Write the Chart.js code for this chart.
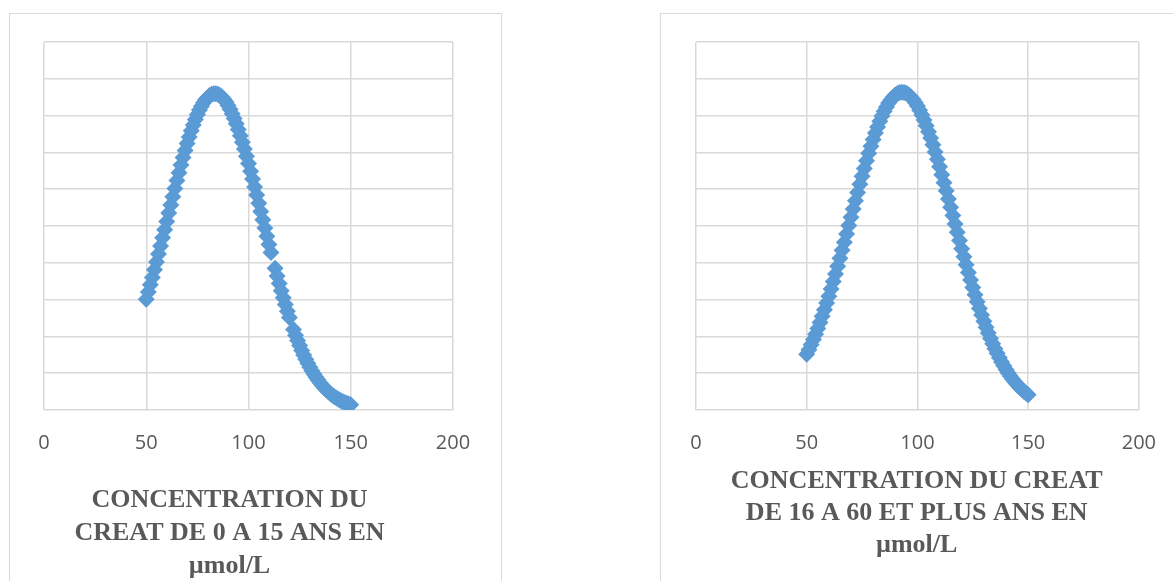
<!DOCTYPE html>
<html>
<head>
<meta charset="utf-8">
<script src="https://cdn.jsdelivr.net/npm/chart.js@4.4.0/dist/chart.umd.min.js"></script>
<style>
html,body{margin:0;padding:0;background:#fff;overflow:hidden;width:1173px;height:581px;}
.frame{position:absolute;top:13px;height:640px;border:1px solid #d9d9d9;background:#fff;}
#frameA{left:9px;width:491px;}
#frameB{left:660px;width:540px;}
canvas{position:absolute;left:0;top:0;}
</style>
</head>
<body>
<div class="frame" id="frameA"><canvas id="chartA" width="491" height="567"></canvas></div>
<div class="frame" id="frameB"><canvas id="chartB" width="516" height="567"></canvas></div>
<script>
let xTicks = [0, 50, 100, 150, 200];

let childX = [50,51,52,53,54,55,56,57,58,59,60,61,62,63,64,65,66,67,68,69,70,71,72,73,74,75,76,77,78,79,80,81,82,83,84,85,86,87,88,89,90,91,92,93,94,95,96,97,98,99,100,101,102,103,104,105,106,107,108,109,110,111,113,114,115,116,117,118,119,120,122,123,124,125,126,127,128,129,130,131,132,133,134,135,136,137,138,139,140,141,142,143,144,145,146,147,148,149,150];
let childY = [0.006025,0.006407,0.006801,0.007206,0.007620,0.008043,0.008474,0.008912,0.009355,0.009801,
  0.010250,0.010700,0.011148,0.011594,0.012035,0.012470,0.012896,0.013312,0.013717,0.014107,
  0.014481,0.014838,0.015176,0.015492,0.015785,0.016054,0.016298,0.016514,0.016702,0.016861,
  0.016990,0.017088,0.017155,0.017190,0.017193,0.017165,0.017104,0.017012,0.016890,0.016736,
  0.016554,0.016343,0.016105,0.015841,0.015552,0.015240,0.014907,0.014554,0.014183,0.013796,
  0.013394,0.012980,0.012556,0.012122,0.011683,0.011237,0.010789,0.010340,0.009891,0.009444,
  0.009000,0.008561,0.007704,0.007288,0.006881,0.006485,0.006101,0.005728,0.005369,0.005022,
  0.004371,0.004066,0.003775,0.003499,0.003237,0.002989,0.002755,0.002535,0.002327,0.002133,
  0.001951,0.001782,0.001624,0.001478,0.001342,0.001216,0.001100,0.000994,0.000896,0.000806,
  0.000724,0.000649,0.000580,0.000518,0.000462,0.000411,0.000365,0.000323,0.000286];

let adultX = [50,51,52,53,54,55,56,57,58,59,60,61,62,63,64,65,66,67,68,69,70,71,72,73,74,75,76,77,78,79,80,81,82,83,84,85,86,87,88,89,90,91,92,93,94,95,96,97,98,99,100,101,102,103,104,105,106,107,108,109,110,111,112,113,114,115,116,117,118,119,120,121,122,123,124,125,126,127,128,129,130,131,132,133,134,135,136,137,138,139,140,141,142,143,144,145,146,147,148,149,150];
let adultY = [0.003030,0.003281,0.003547,0.003828,0.004122,0.004432,0.004756,0.005093,0.005445,0.005809,
  0.006187,0.006576,0.006977,0.007389,0.007811,0.008241,0.008678,0.009122,0.009570,0.010022,
  0.010475,0.010928,0.011379,0.011827,0.012270,0.012705,0.013131,0.013546,0.013948,0.014335,
  0.014705,0.015056,0.015387,0.015696,0.015981,0.016240,0.016473,0.016678,0.016854,0.017000,
  0.017115,0.017199,0.017250,0.017270,0.017257,0.017212,0.017134,0.017026,0.016886,0.016716,
  0.016517,0.016289,0.016035,0.015755,0.015450,0.015124,0.014777,0.014410,0.014026,0.013627,
  0.013215,0.012791,0.012357,0.011916,0.011469,0.011018,0.010565,0.010112,0.009660,0.009211,
  0.008767,0.008328,0.007896,0.007473,0.007059,0.006655,0.006264,0.005883,0.005516,0.005162,
  0.004822,0.004496,0.004183,0.003885,0.003602,0.003333,0.003079,0.002839,0.002612,0.002399,
  0.002199,0.002012,0.001838,0.001675,0.001524,0.001384,0.001255,0.001135,0.001025,0.000924,
  0.000831];

let childTitle = ['CONCENTRATION DU', 'CREAT DE 0 A 15 ANS EN', 'µmol/L'];
let adultTitle = ['CONCENTRATION DU CREAT', 'DE 16 A 60 ET PLUS ANS EN', 'µmol/L'];

let gridColor = '#d9d9d9';
let markColor = '#5B9BD5';
let textColor = '#595959';

// excel-style axis title under the tick labels
let captionPlugin = {
  id: 'caption',
  afterDraw(chart) {
    let o = chart.options.plugins.caption;
    let ctx = chart.ctx;
    ctx.save();
    ctx.font = 'bold 26px "Liberation Serif", "Times New Roman", serif';
    ctx.fillStyle = textColor;
    ctx.textAlign = 'center';
    ctx.textBaseline = 'alphabetic';
    o.lines.forEach((t, i) => ctx.fillText(t, o.x, o.y + i * o.lineHeight));
    ctx.restore();
  }
};

function points(xs, ys) {
  return xs.map((x, i) => ({x: x, y: ys[i]}));
}

function build(id, xs, ys, pad, caption) {
  let ctx = document.getElementById(id).getContext('2d');
  return new Chart(ctx, {
    type: 'scatter',
    data: {
      datasets: [{
        data: points(xs, ys),
        pointStyle: 'rectRot',
        pointRadius: 8.5,
        pointHoverRadius: 8.5,
        pointBorderWidth: 0,
        backgroundColor: markColor,
        borderColor: markColor,
        showLine: false
      }]
    },
    options: {
      responsive: false,
      animation: false,
      devicePixelRatio: 1,
      layout: {padding: pad},
      plugins: {legend: {display: false}, tooltip: {enabled: false}, caption: caption},
      scales: {
        x: {
          type: 'linear', min: 0, max: 200,
          afterBuildTicks: s => { s.ticks = xTicks.map(v => ({value: v})); },
          grid: {color: gridColor, lineWidth: 1.5, drawTicks: false},
          border: {display: false},
          ticks: {color: textColor, padding: 21, font: {family: '"Open Sans", sans-serif', size: 20}}
        },
        y: {
          min: 0, max: 0.02,
          ticks: {display: false, stepSize: 0.002},
          grid: {color: gridColor, lineWidth: 1.5, drawTicks: false},
          border: {display: false}
        }
      }
    },
    plugins: [captionPlugin]
  });
}

build('chartA', childX, childY, {left: 34, right: 48, top: 28, bottom: 105},
  {lines: childTitle, x: 219.5, y: 493, lineHeight: 33});
build('chartB', adultX, adultY, {left: 35, right: 31, top: 28, bottom: 105},
  {lines: adultTitle, x: 255.7, y: 474, lineHeight: 32});
</script>
</body>
</html>
